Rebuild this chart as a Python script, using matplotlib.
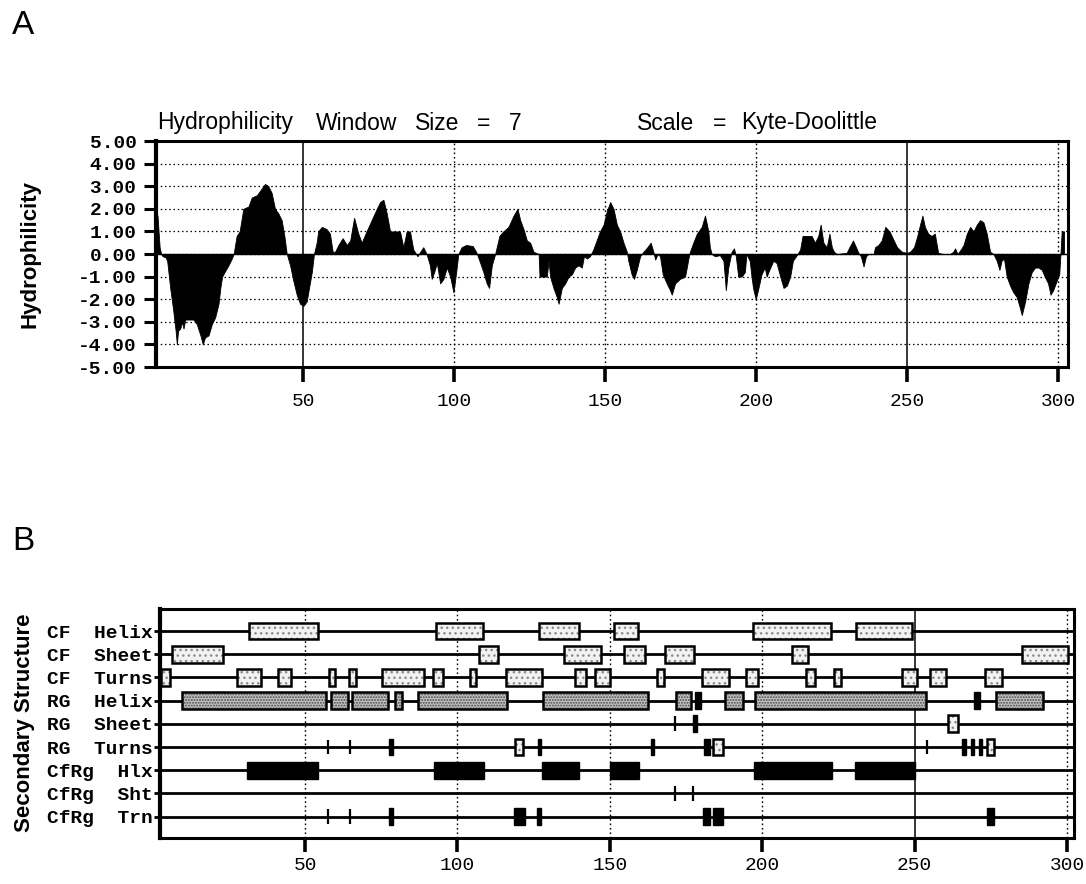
import matplotlib
matplotlib.use('Agg')
import matplotlib.pyplot as plt
from matplotlib.patches import Rectangle

# ---------------- data ----------------
residue = [1, 1.8, 2.5, 3, 3.5, 4.5, 5, 6, 7, 7.8, 8.2, 8.6, 9.3, 10, 10.4, 11, 12.6, 13.7, 14.8, 16,
           16.8, 17.5, 18.7, 19.8, 20.9, 22, 22.6, 23.2, 24, 25.3, 26.4, 27,
           28, 29, 30.2, 31.9, 33, 34.7, 36.3, 37.4, 38.5, 39.6, 40.7, 41.8, 42.9, 43.8, 44.6,
           45.7, 46.8, 47.9, 49, 50.1, 51.2, 52.1, 52.9, 53.6,
           54.5, 55, 56.2, 57.8, 58.9, 59.8, 60.6, 61.7, 63.1, 64.5, 65.6, 66.9, 68.3, 69.4, 71, 72.7,
           74.4, 75.5, 76.6, 77.7, 78.8, 80.5, 82.1, 83.2, 84.3, 85.4, 86.5, 87.9, 88.8, 89.8, 90.9,
           92, 92.6, 93.4, 94.3, 95.4, 96.5, 97.6, 98.7, 99.8, 100.7, 101.4, 102.5, 104, 106.2, 107.3,
           108.4, 109.7, 110.8, 111.6, 112.5, 113.6, 115, 116.3, 118, 119.7, 121, 121.9, 123, 124.1,
           125.2, 126.3, 128, 128.3, 130.7, 131.3, 131.8, 132.9, 134, 134.6, 135.7, 136.8, 137.9, 139,
           140.1, 141.2, 142.3, 143, 144, 145, 146.1, 147.2, 148.3, 149.5, 150.6, 151.7, 152.8, 153.9,
           155, 156.1, 157.2, 157.7, 158.8, 159.6, 160.5, 161.6, 162.7, 164, 165.1, 166, 166.6, 167.4,
           168.2, 169.1, 170.4, 171.5, 172.1, 173.2, 174.8, 176.5, 177.6, 178.1, 179.2, 180.4, 182,
           183.1, 184.2, 184.7, 185.3, 186.4, 188, 189.2, 190, 190.8, 191.9, 192.7, 193.3, 194.1, 195.2,
           196.3, 196.8, 197.9, 198.5, 199, 199.9, 200.8, 201.8, 202.9, 203.5, 204.4, 205.7, 206.8, 208,
           209.1, 210.2, 211.3, 212.2, 213.5, 214.6, 215.4, 216.8, 218.4, 219.5, 220.6, 221.4, 222.3,
           223.4, 224.3, 225.1, 225.8, 226.7, 230, 230.9, 232.1, 233.1, 233.9, 234.7, 235.6, 236.4,
           237.2, 238.9, 239.4, 240.5, 241.6, 242.8, 244.2, 245.6, 246.7, 248.3, 250, 251, 252.3, 253.4,
           254.3, 255.1, 255.9, 257, 258.1, 259.2, 260.3, 262, 264.2, 265.3, 265.9, 266.7, 267.8, 268.7,
           269.8, 270.9, 272, 273.1, 274.2, 275.3, 276.4, 277.5, 278.6, 279.7, 280.6, 281.3, 282.1, 283,
           284.1, 285.2, 286.3, 287.2, 288, 289.1, 290.2, 291.3, 292.4, 293.5, 294.6, 295.6, 296.7,
           297.5, 298.4, 299.5, 300.4, 300.8, 301.2, 302]
hydro = [1.8, 1.7, 0.3, 0.0, -0.1, -0.15, -0.3, -1.5, -2.5, -3.4, -4.0, -3.4, -3.3, -3.0, -3.3, -2.9, -2.9, -2.9, -3.1, -3.6,
         -4.0, -3.7, -3.6, -3.1, -2.8, -2.2, -1.5, -1.0, -0.8, -0.5, -0.2, 0.0,
         0.8, 1.0, 2.0, 2.1, 2.5, 2.6, 2.9, 3.1, 3.0, 2.7, 2.0, 1.8, 1.5, 0.8, 0.0,
         -0.5, -1.2, -1.8, -2.2, -2.3, -2.1, -1.4, -0.8, 0.0,
         0.5, 1.0, 1.2, 1.1, 0.9, 0.1, 0.1, 0.4, 0.7, 0.4, 0.6, 1.6, 0.9, 0.5, 1.0, 1.5,
         2.0, 2.3, 2.4, 1.8, 1.0, 1.0, 1.0, 0.3, 1.0, 1.0, 0.2, -0.1, 0.1, 0.3, 0.0,
         -0.5, -1.1, -0.8, -0.4, -1.3, -1.1, -0.6, -1.0, -1.7, -0.8, 0.0, 0.3, 0.4, 0.35, 0.1,
         -0.3, -0.8, -1.3, -1.5, -0.5, 0.0, 0.8, 1.0, 1.2, 1.7, 2.0, 1.5, 1.1, 0.6,
         0.5, 0.1, 0.0, -1.0, -1.0, -0.3, -1.0, -1.5, -1.9, -2.2, -1.5, -1.3, -1.0, -0.9,
         -0.6, -0.5, -0.6, -0.1, -0.2, -0.1, 0.2, 0.6, 1.0, 1.3, 1.9, 2.3, 2.0, 1.3,
         1.0, 0.5, 0.1, -0.3, -0.9, -1.1, -0.7, -0.1, 0.1, 0.3, 0.5, 0.1, -0.25, 0.0,
         -0.1, -0.9, -1.3, -1.6, -1.8, -1.3, -1.1, -1.0, -0.2, 0.1, 0.5, 0.9, 1.2,
         1.7, 1.0, 0.3, 0.0, -0.1, -0.05, -0.3, -1.6, -0.6, 0.1, 0.25, -0.1, -1.0, -1.0,
         -0.8, 0.0, -0.3, -1.0, -1.5, -2.0, -1.5, -0.9, -0.6, -1.0, -0.7, -0.3, -0.4, -1.0,
         -1.5, -1.4, -1.0, -0.3, -0.05, 0.2, 0.8, 0.8, 0.8, 0.5, 0.8, 1.3, 0.5,
         0.3, 0.9, 0.3, 0.1, 0.0, 0.05, 0.3, 0.6, 0.3, 0.05, -0.1, -0.55, -0.1,
         0.0, 0.0, 0.3, 0.4, 0.6, 1.2, 1.0, 0.6, 0.3, 0.1, 0.05, 0.1, 0.3, 0.8,
         1.3, 1.7, 1.2, 0.9, 0.8, 0.9, 0.05, 0.0, 0.0, 0.1, 0.25, 0.0, 0.2, 0.4,
         0.9, 1.2, 1.0, 1.3, 1.5, 1.4, 0.9, 0.1, 0.0, -0.3, -0.7, -0.3, -0.2, -1.0,
         -1.4, -1.7, -1.9, -2.3, -2.7, -2.1, -1.3, -0.8, -0.6, -0.6, -0.7, -1.0, -1.3,
         -1.8, -1.6, -1.2, -0.9, 0.0, 1.0, 1.0]

y_ticks = [5, 4, 3, 2, 1, 0, -1, -2, -3, -4, -5]
x_ticks = [50, 100, 150, 200, 250, 300]

row_labels = ["CF  Helix", "CF  Sheet", "CF  Turns", "RG  Helix", "RG  Sheet",
              "RG  Turns", "CfRg  Hlx", "CfRg  Sht", "CfRg  Trn"]

# segments: (start, end, kind)  kind: 'box' patterned box, 'solid' black box, 'thin' single mark
cf_helix = [(31.7, 54.1, 'box'), (92.8, 108.5, 'box'), (126.8, 139.9, 'box'), (151.4, 159.4, 'box'),
            (197.1, 222.6, 'box'), (230.8, 249.0, 'box')]
cf_sheet = [(6.2, 23.2, 'box'), (107.2, 113.2, 'box'), (135.1, 147.1, 'box'), (154.6, 161.5, 'box'),
            (168.0, 177.6, 'box'), (209.7, 215.1, 'box'), (285.1, 300.3, 'box')]
cf_turns = [(2.8, 5.7, 'box'), (27.8, 35.4, 'box'), (41.2, 45.3, 'box'), (57.7, 59.7, 'box'),
            (64.4, 66.7, 'box'), (75.1, 88.9, 'box'), (92.1, 95.1, 'box'), (104.1, 106.2, 'box'),
            (115.8, 127.7, 'box'), (138.5, 142.2, 'box'), (145.1, 150.2, 'box'), (165.5, 167.7, 'box'),
            (180.3, 189.0, 'box'), (194.8, 198.7, 'box'), (214.3, 217.2, 'box'), (223.5, 226.0, 'box'),
            (245.8, 250.7, 'box'), (254.9, 260.2, 'box'), (273.1, 278.6, 'box')]
rg_helix = [(9.7, 56.8, 'box'), (58.5, 64.0, 'box'), (65.3, 77.2, 'box'), (79.6, 81.9, 'box'),
            (86.9, 116.1, 'box'), (128.2, 162.6, 'box'), (171.8, 176.6, 'box'), (178.0, 179.9, 'solid'),
            (187.9, 193.6, 'box'), (197.5, 253.6, 'box'), (269.6, 271.4, 'solid'), (276.8, 292.0, 'box')]
rg_sheet = [(170.9, 171.8, 'thin'), (177.2, 178.7, 'solid'), (261.0, 264.2, 'box')]
rg_turns = [(57.4, 57.9, 'thin'), (64.4, 65.0, 'thin'), (77.6, 79.0, 'solid'), (118.9, 121.6, 'box'),
            (126.3, 127.5, 'solid'), (163.4, 164.6, 'solid'), (181.0, 183.0, 'solid'), (183.9, 187.2, 'box'),
            (253.8, 254.5, 'thin'), (265.6, 266.8, 'solid'), (268.5, 269.6, 'solid'), (271.0, 272.2, 'solid'),
            (273.7, 276.0, 'box')]
cfrg_hlx = [(30.8, 54.4, 'solid'), (92.4, 108.8, 'solid'), (127.8, 139.9, 'solid'), (150.2, 159.6, 'solid'),
            (197.3, 222.8, 'solid'), (230.6, 250.1, 'solid')]
cfrg_sht = [(170.9, 171.6, 'thin'), (177.0, 177.7, 'thin')]
cfrg_trn = [(57.4, 57.9, 'thin'), (64.4, 65.0, 'thin'), (77.6, 78.7, 'solid'), (118.7, 122.0, 'solid'),
            (126.0, 127.5, 'solid'), (180.7, 183.0, 'solid'), (183.9, 187.2, 'solid'), (273.7, 276.0, 'solid')]
rows = [cf_helix, cf_sheet, cf_turns, rg_helix, rg_sheet, rg_turns, cfrg_hlx, cfrg_sht, cfrg_trn]

# ---------------- figure ----------------
W, H = 1086, 884
fig = plt.figure(figsize=(W / 100, H / 100), dpi=100)
fig.patch.set_facecolor('white')

SANS = ['Liberation Sans', 'DejaVu Sans']
MONO = ['Liberation Mono', 'DejaVu Sans Mono']


def fx(px):
    return px / W


def fy(py):
    return 1 - py / H


# ---------- Panel A ----------
L, R, T, B = 156, 1068, 141, 367
axA = fig.add_axes([fx(L), fy(B), fx(R - L), (B - T) / H])
axA.set_xlim(1.3, 303.3)
axA.set_ylim(-5, 5)
for v in range(-4, 5):
    axA.axhline(v, color='black', lw=0.9, ls=(0, (1.2, 2.2)), zorder=1)
for v in x_ticks:
    if v in (50, 250):
        axA.axvline(v, color='black', lw=1.1, zorder=1)
    else:
        axA.axvline(v, color='black', lw=1.0, ls=(0, (1.2, 2.0)), zorder=1)
axA.fill_between(residue, hydro, 0, color='black', lw=0.6, interpolate=True, zorder=2)
axA.axhline(0, color='black', lw=1.0, zorder=2)

axA.set_yticks(y_ticks)
axA.set_yticklabels(['%.2f' % v for v in y_ticks], fontfamily=MONO, fontweight='bold', fontsize=14)
axA.set_xticks(x_ticks)
axA.set_xticklabels([str(v) for v in x_ticks], fontfamily=MONO, fontsize=14)
axA.tick_params(axis='y', direction='out', length=9, width=2.2, pad=5)
axA.tick_params(axis='x', direction='out', length=11, width=2.6, pad=8)
for s in axA.spines.values():
    s.set_linewidth(2.2)
axA.spines['left'].set_linewidth(3)
fig.text(fx(30), fy(254), 'Hydrophilicity', fontfamily=SANS, fontweight='bold', fontsize=16,
         rotation=90, ha='center', va='center')

# title pieces
title_y = fy(123)
for txt, px in [("Hydrophilicity", 157), ("Window", 316), ("Size", 415), ("=", 477), ("7", 509),
                ("Scale", 637), ("=", 713), ("Kyte-Doolittle", 741)]:
    fig.text(fx(px), title_y, txt, fontfamily=SANS, fontsize=16.5, ha='left', va='center')

fig.text(fx(12), fy(25), 'A', fontfamily=SANS, fontsize=24, ha='left', va='center')
fig.text(fx(12), fy(542), 'B', fontfamily=SANS, fontsize=24, ha='left', va='center')

# ---------- Panel B ----------
L2, R2, T2, B2 = 160, 1074, 609, 838
axB = fig.add_axes([fx(L2), fy(B2), fx(R2 - L2), (B2 - T2) / H])
axB.set_xlim(2.4, 302.3)
axB.set_ylim(9.92, 0.05)
for v in x_ticks:
    if v == 250:
        axB.axvline(v, color='black', lw=1.1, zorder=1)
    else:
        axB.axvline(v, color='black', lw=1.0, ls=(0, (1.2, 2.0)), zorder=1)

n = len(row_labels)
ypos = list(range(1, n + 1))
axB.hlines(ypos, 2.4, 302.3, color='black', lw=2.0, zorder=2)

box_h = 0.72
for i, segs in enumerate(rows):
    yc = ypos[i]
    dense = (i == 3)
    for (a, b, kind) in segs:
        if kind == 'box':
            face = '#c4c4c4' if dense else '#f2f2f2'
            hcol = '#4a4a4a' if dense else '#8a8a8a'
            hatch = '......' if dense else '...'
            axB.add_patch(Rectangle((a, yc - box_h / 2), b - a, box_h, facecolor=face,
                                    edgecolor=hcol, hatch=hatch, lw=0, zorder=3))
            axB.add_patch(Rectangle((a, yc - box_h / 2), b - a, box_h, fill=False,
                                    edgecolor='black', lw=1.8, zorder=4))
        elif kind == 'solid':
            axB.add_patch(Rectangle((a, yc - box_h / 2), b - a, box_h, facecolor='black',
                                    edgecolor='black', lw=1.0, zorder=3))
        else:
            axB.vlines((a + b) / 2, yc - 0.32, yc + 0.32, color='black', lw=1.6, zorder=3)

axB.set_yticks(ypos)
axB.set_yticklabels(row_labels, fontfamily=MONO, fontweight='bold', fontsize=14)
axB.set_xticks(x_ticks)
axB.set_xticklabels([str(v) for v in x_ticks], fontfamily=MONO, fontsize=14)
axB.tick_params(axis='y', direction='out', length=4, width=2, pad=1)
axB.tick_params(axis='x', direction='out', length=10, width=2.6, pad=4)
for s in axB.spines.values():
    s.set_linewidth(2.2)
axB.spines['left'].set_linewidth(3)
fig.text(fx(25), fy(723), 'Secondary Structure', fontfamily=SANS, fontweight='bold', fontsize=16,
         rotation=90, ha='center', va='center')

fig.savefig('out.png', dpi=100, facecolor='white')
